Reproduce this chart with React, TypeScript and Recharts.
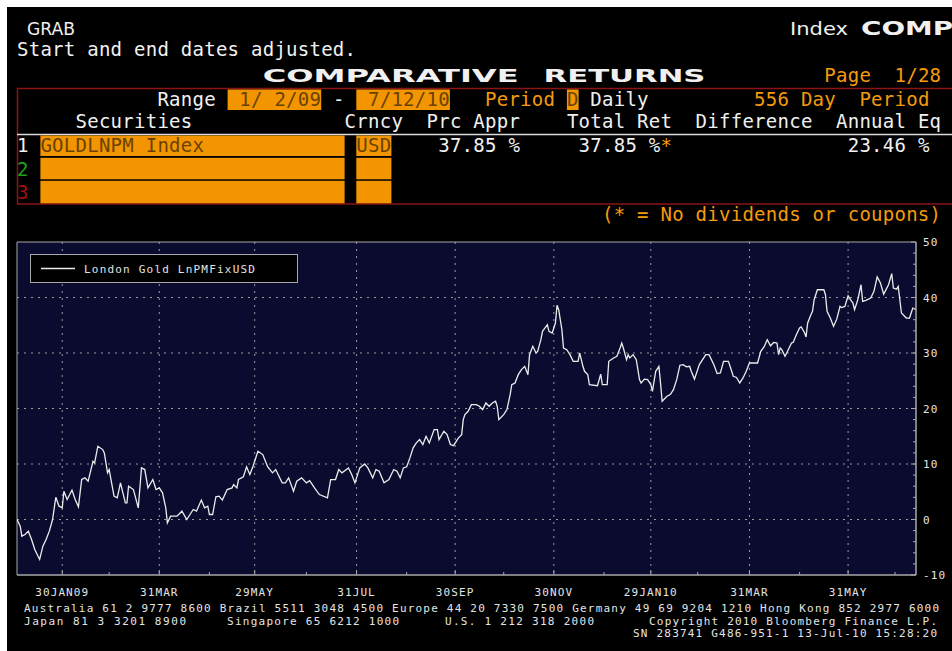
import React from 'react';
import { LineChart, Line, XAxis, YAxis, CartesianGrid, Legend, ReferenceArea } from 'recharts';

// Calendar days since 2 Jan 2009
const DAY_OFFSETS = [
  0, 2, 3, 5, 7, 9, 11, 14, 16, 18, 20, 22, 24, 26, 28, 29, 31, 34, 36, 38, 40, 42, 44, 47, 48, 50, 53, 54, 56, 57,
  60, 62, 64, 67, 68, 69, 72, 75, 77, 79, 81, 84, 86, 88, 90, 92, 93, 95, 99, 102, 105, 107, 109, 111, 114, 116, 118, 119, 121, 123,
  125, 127, 130, 133, 134, 136, 137, 140, 142, 143, 144, 146, 149, 152, 155, 158, 160, 164, 166, 168, 171, 173, 176, 179, 181, 184, 187, 192, 194, 197,
  199, 201, 205, 207, 209, 212, 215, 217, 220, 222, 224, 227, 230, 233, 235, 237, 239, 241, 243, 245, 247, 249, 251, 253, 255, 258, 260, 261, 264, 266,
  268, 270, 273, 275, 276, 277, 279, 281, 284, 286, 288, 290, 292, 294, 296, 297, 298, 301, 303, 305, 306, 308, 310, 312, 314, 316, 317, 319, 321, 322,
  324, 325, 328, 329, 331, 333, 334, 335, 337, 338, 340, 342, 344, 347, 348, 350, 351, 353, 354, 359, 361, 362, 365, 366, 369, 371, 373, 374, 375, 377,
  378, 379, 381, 383, 385, 386, 388, 390, 392, 393, 395, 397, 398, 399, 402, 404, 406, 408, 410, 412, 414, 416, 417, 419, 422, 426, 428, 431, 433, 435,
  437, 440, 441, 443, 445, 447, 449, 451, 453, 458, 460, 462, 464, 466, 468, 470, 471, 472, 473, 475, 477, 479, 480, 482, 484, 485, 487, 488, 489, 491,
  492, 493, 495, 499, 500, 501, 503, 505, 507, 509, 510, 512, 514, 516, 517, 518, 520, 522, 523, 525, 528, 530, 532, 534, 536, 539, 541, 542, 544, 545,
  547, 550, 552, 554, 556,
];

// Cumulative return, % (London Gold LnPMFixUSD)
const GOLD_RETURN_PCT = [
  0, -1.2, -3.0, -2.7, -2.1, -3.6, -5.4, -7.2, -4.8, -3.6, -2.1, 0, 4.0, 2.4, 2.1, 5.1, 3.6, 5.3, 3.6, 2.3, 7.2, 7.5, 6.9, 10.5, 10.2, 13.2, 12.6, 12.0, 8.4, 9.0,
  4.2, 3.9, 6.6, 3.0, 3.0, 6.0, 5.4, 2.1, 9.3, 9.0, 5.7, 7.2, 5.4, 5.7, 4.8, 2.1, -0.6, 0.6, 0.6, 1.5, 0, 0.9, 1.8, 1.5, 3.5, 2.1, 2.4, 0.9, 0.9, 4.1,
  4.2, 3.5, 5.4, 5.7, 6.3, 5.7, 7.2, 7.7, 9.5, 8.8, 8.1, 9.6, 12.3, 11.7, 9.5, 8.4, 9.0, 6.6, 6.6, 7.5, 5.1, 6.9, 7.5, 6.6, 7.0, 5.7, 4.5, 3.9, 7.2, 7.2,
  9.0, 8.4, 9.3, 8.1, 6.6, 9.3, 10.0, 9.3, 7.5, 9.0, 8.7, 6.6, 7.2, 9.0, 8.7, 7.5, 9.3, 9.5, 11.1, 12.9, 13.8, 14.4, 13.5, 15.0, 13.8, 16.2, 16.2, 14.4, 15.9, 15.3,
  13.5, 13.3, 14.7, 15.3, 18.0, 18.9, 19.5, 20.7, 20.7, 20.4, 19.8, 21.0, 20.4, 21.0, 21.3, 20.4, 18.0, 18.9, 19.8, 22.5, 24.3, 24.6, 26.1, 27.0, 27.6, 26.1, 29.7, 31.2, 30.0, 30.3,
  32.4, 33.9, 35.1, 33.9, 33.6, 35.4, 38.6, 37.8, 34.2, 30.9, 30.6, 29.7, 28.5, 28.5, 30.0, 27.6, 26.7, 26.1, 24.3, 24.1, 26.2, 24.3, 24.3, 28.5, 29.1, 29.4, 30.9, 31.8, 30.9, 28.8,
  29.7, 29.1, 29.7, 28.8, 25.2, 24.6, 25.3, 25.2, 24.3, 23.1, 26.7, 27.6, 24.6, 21.3, 22.2, 22.5, 23.4, 25.2, 27.8, 27.9, 27.5, 27.6, 26.7, 25.3, 27.9, 29.7, 29.7, 27.9, 26.3, 26.4,
  28.5, 28.5, 27.6, 25.8, 25.6, 24.6, 25.5, 26.7, 28.2, 28.2, 30.3, 31.1, 32.4, 31.3, 31.9, 31.8, 29.7, 30.9, 30.6, 29.4, 30.6, 31.8, 31.9, 33.3, 34.5, 34.7, 33.7, 32.9, 35.4, 36.9,
  37.5, 39.6, 41.4, 41.4, 40.5, 37.5, 36.3, 34.8, 36.1, 38.4, 38.2, 38.4, 40.3, 39.4, 39.0, 37.8, 39.6, 42.3, 39.3, 39.5, 39.9, 41.1, 43.7, 42.6, 40.6, 42.3, 44.3, 41.7, 41.5, 42.0,
  37.2, 36.3, 36.3, 38.1, 37.85,
];

const X_MAJOR_TICKS = [28, 88, 147, 210, 271, 332, 392, 453, 514];
const X_MAJOR_LABELS = ['30JAN09', '31MAR', '29MAY', '31JUL', '30SEP', '30NOV', '29JAN10', '31MAR', '31MAY'];
const X_MINOR_TICKS = [57, 119, 179, 241, 301, 363, 421, 484, 543];
const Y_MAJOR_TICKS = [-10, 0, 10, 20, 30, 40, 50];
const Y_MINOR_TICKS = [-8, -6, -4, -2, 2, 4, 6, 8, 12, 14, 16, 18, 22, 24, 26, 28, 32, 34, 36, 38, 42, 44, 46, 48];
const Y_GRID = [0, 10, 20, 30, 40];
const SERIES_NAME = 'London Gold LnPMFixUSD';

const data = DAY_OFFSETS.map((d, i) => ({ d, v: GOLD_RETURN_PCT[i] }));
const X_ALL_TICKS = [...X_MAJOR_TICKS, ...X_MINOR_TICKS].sort((a, b) => a - b);
const Y_ALL_TICKS = [...Y_MAJOR_TICKS, ...Y_MINOR_TICKS].sort((a, b) => a - b);

const CHART_FONT = '"DejaVu Sans Mono", monospace';
const TERM_FONT = '"DejaVu Sans Mono", monospace';
const AXIS_COLOR = '#a8a8a8';
const LABEL_COLOR = '#e4e4e4';
const ORANGE = '#f59a0c';
const BOX_ORANGE = '#f39500';
const BOX_TEXT = '#6a4200';
const WHITE = '#f0f0f0';

const XTick = (props: any) => {
  const { x, y, payload } = props;
  const i = X_MAJOR_TICKS.indexOf(payload.value);
  const major = i >= 0;
  return (
    <g>
      <line x1={x} x2={x} y1={y} y2={y - (major ? 5 : 3)} stroke={AXIS_COLOR} strokeWidth={1} />
      {major && (
        <text x={x} y={y + 21} textAnchor="middle" fill={LABEL_COLOR} fontFamily={CHART_FONT} fontSize={11} letterSpacing={1.1}>
          {X_MAJOR_LABELS[i]}
        </text>
      )}
    </g>
  );
};

const YTick = (props: any) => {
  const { x, y, payload } = props;
  const major = Y_MAJOR_TICKS.includes(payload.value);
  return (
    <g>
      <line x1={x - (major ? 5 : 3)} x2={x} y1={y} y2={y} stroke={AXIS_COLOR} strokeWidth={1} />
      {major && (
        <text x={x + 7} y={y + 4} textAnchor="start" fill={LABEL_COLOR} fontFamily={CHART_FONT} fontSize={11} letterSpacing={1.1}>
          {String(payload.value)}
        </text>
      )}
    </g>
  );
};

const LegendBox = (props: any) => {
  const item = props.payload && props.payload[0];
  return (
    <div
      style={{
        width: 268,
        height: 29,
        boxSizing: 'border-box',
        border: '1px solid #a8a8a8',
        background: '#000',
        position: 'relative',
      }}
    >
      <svg width={266} height={27} style={{ position: 'absolute', left: 0, top: 0 }}>
        <line x1={10} x2={44} y1={13.5} y2={13.5} stroke={item ? item.color : '#eee'} strokeWidth={1.3} />
        <text x={53} y={17.5} fill={LABEL_COLOR} fontFamily={CHART_FONT} fontSize={11} letterSpacing={1.2}>
          {item ? item.value : SERIES_NAME}
        </text>
      </svg>
    </div>
  );
};

const cx = (c: number) => 17 + c * 11.7;

const T = ({ c, y, fill = WHITE, children }: any) => (
  <text x={cx(c)} y={y} fill={fill} fontFamily={TERM_FONT} fontSize={19} letterSpacing={0.26} style={{ whiteSpace: 'pre' }}>
    {children}
  </text>
);

const FootText = ({ x, y, w, children }: any) => (
  <text x={x} y={y} fill={LABEL_COLOR} fontFamily={CHART_FONT} fontSize={11} textLength={w} lengthAdjust="spacing" style={{ whiteSpace: 'pre' }}>
    {children}
  </text>
);

const Header = () => (
  <svg width={952} height={240} style={{ position: 'absolute', left: 0, top: 0 }}>
    <text x={27} y={35} fill={WHITE} fontFamily='"DejaVu Sans", sans-serif' fontSize={18} textLength={48} lengthAdjust="spacingAndGlyphs">GRAB</text>
    <text x={790} y={35} fill={WHITE} fontFamily='"DejaVu Sans", sans-serif' fontSize={18} textLength={58} lengthAdjust="spacingAndGlyphs">Index</text>
    <text x={861} y={35} fill={WHITE} fontFamily='"DejaVu Sans", sans-serif' fontWeight="bold" fontSize={19} textLength={92} lengthAdjust="spacingAndGlyphs">COMP</text>

    <T c={0} y={56}>Start and end dates adjusted.</T>

    <text x={cx(21)} y={82} fill={WHITE} fontFamily='"DejaVu Sans", sans-serif' fontWeight="bold" fontSize={18} textLength={256} lengthAdjust="spacingAndGlyphs">COMPARATIVE</text>
    <text x={cx(45)} y={82} fill={WHITE} fontFamily='"DejaVu Sans", sans-serif' fontWeight="bold" fontSize={18} textLength={162} lengthAdjust="spacingAndGlyphs">RETURNS</text>
    <T c={69} y={82} fill={ORANGE}>Page  1/28</T>

    <rect x={17.5} y={88.5} width={950} height={115.5} fill="none" stroke="#8c1414" strokeWidth={1.5} />

    <T c={12} y={106}>Range</T>
    <rect x={cx(18)} y={89.5} width={cx(26) - cx(18)} height={20.5} fill={BOX_ORANGE} />
    <T c={19} y={106} fill={BOX_TEXT}>1/ 2/09</T>
    <T c={27} y={106}>-</T>
    <rect x={cx(29)} y={89.5} width={cx(37) - cx(29)} height={20.5} fill={BOX_ORANGE} />
    <T c={30} y={106} fill={BOX_TEXT}>7/12/10</T>
    <T c={40} y={106} fill={ORANGE}>Period</T>
    <rect x={cx(47)} y={89.5} width={11.7} height={20.5} fill={BOX_ORANGE} />
    <T c={47} y={106} fill={BOX_TEXT}>D</T>
    <T c={49} y={106}>Daily</T>
    <T c={63} y={106} fill={ORANGE}>556 Day  Period</T>

    <T c={5} y={128}>Securities</T>
    <T c={28} y={128}>Crncy</T>
    <T c={35} y={128}>Prc Appr</T>
    <T c={47} y={128}>Total Ret</T>
    <T c={58} y={128}>Difference</T>
    <T c={70} y={128}>Annual Eq</T>
    <line x1={17} x2={952} y1={134.5} y2={134.5} stroke="#dcdcdc" strokeWidth={1.5} />

    <rect x={cx(2)} y={135.5} width={cx(28) - cx(2)} height={20.5} fill={BOX_ORANGE} />
    <rect x={cx(29)} y={135.5} width={cx(32) - cx(29)} height={20.5} fill={BOX_ORANGE} />
    <rect x={cx(2)} y={157.8} width={cx(28) - cx(2)} height={21.5} fill={BOX_ORANGE} />
    <rect x={cx(29)} y={157.8} width={cx(32) - cx(29)} height={21.5} fill={BOX_ORANGE} />
    <rect x={cx(2)} y={180.8} width={cx(28) - cx(2)} height={22.5} fill={BOX_ORANGE} />
    <rect x={cx(29)} y={180.8} width={cx(32) - cx(29)} height={22.5} fill={BOX_ORANGE} />

    <T c={0} y={152}>1</T>
    <T c={2} y={152} fill={BOX_TEXT}>GOLDLNPM Index</T>
    <T c={29} y={152} fill={BOX_TEXT}>USD</T>
    <T c={36} y={152}>37.85 %</T>
    <T c={48} y={152}>37.85 %</T>
    <T c={55} y={152} fill={ORANGE}>*</T>
    <T c={71} y={152}>23.46 %</T>
    <T c={0} y={176} fill="#1ea01e">2</T>
    <T c={0} y={199} fill="#a01010">3</T>

    <T c={50} y={221} fill={ORANGE}>(* = No dividends or coupons)</T>
  </svg>
);

const Footer = () => (
  <svg width={952} height={60} style={{ position: 'absolute', left: 0, top: 598 }}>
    <FootText x={24} y={14} w={915}>Australia 61 2 9777 8600 Brazil 5511 3048 4500 Europe 44 20 7330 7500 Germany 49 69 9204 1210 Hong Kong 852 2977 6000</FootText>
    <FootText x={24} y={26.5} w={162}>Japan 81 3 3201 8900</FootText>
    <FootText x={227} y={26.5} w={172}>Singapore 65 6212 1000</FootText>
    <FootText x={445} y={26.5} w={149}>U.S. 1 212 318 2000</FootText>
    <FootText x={649} y={26.5} w={288}>Copyright 2010 Bloomberg Finance L.P.</FootText>
    <FootText x={633} y={38.5} w={304}>SN 283741 G486-951-1 13-Jul-10 15:28:20</FootText>
  </svg>
);

export default function App() {
  return (
    <div style={{ position: 'absolute', left: 0, top: 0, width: 952, height: 651, background: '#fff', overflow: 'hidden' }}>
      <div style={{ position: 'absolute', left: 7, top: 7, width: 945, height: 644, background: '#000' }} />
      <Header />
      <div style={{ position: 'absolute', left: 0, top: 0 }}>
        <LineChart width={952} height={651} data={data} margin={{ top: 242, right: 0, bottom: 46, left: 17 }}>
          <CartesianGrid
            fill="#0b0b30"
            stroke="#9a9a9a"
            strokeDasharray="2 5"
            horizontalValues={Y_GRID}
            verticalValues={X_MAJOR_TICKS}
          />
          <XAxis
            dataKey="d"
            type="number"
            domain={[0, 556]}
            ticks={X_ALL_TICKS}
            interval={0}
            tickSize={0}
            tickMargin={0}
            tickLine={false}
            tick={<XTick />}
            axisLine={{ stroke: AXIS_COLOR }}
            height={30}
            allowDataOverflow
          />
          <YAxis
            orientation="right"
            type="number"
            domain={[-10, 50]}
            ticks={Y_ALL_TICKS}
            interval={0}
            tickSize={0}
            tickMargin={0}
            tickLine={false}
            tick={<YTick />}
            axisLine={{ stroke: AXIS_COLOR }}
            width={36}
            allowDataOverflow
          />
          <ReferenceArea x1={0} x2={556} y1={-10} y2={50} fill="none" fillOpacity={0} stroke={AXIS_COLOR} strokeWidth={1} />
          <Legend
            layout="horizontal"
            verticalAlign="middle"
            align="center"
            wrapperStyle={{ left: 30, top: 254, width: 268, height: 29 }}
            content={<LegendBox />}
          />
          <Line
            type="linear"
            dataKey="v"
            name={SERIES_NAME}
            stroke="#ececec"
            strokeWidth={1.3}
            dot={false}
            isAnimationActive={false}
          />
        </LineChart>
      </div>
      <Footer />
    </div>
  );
}
